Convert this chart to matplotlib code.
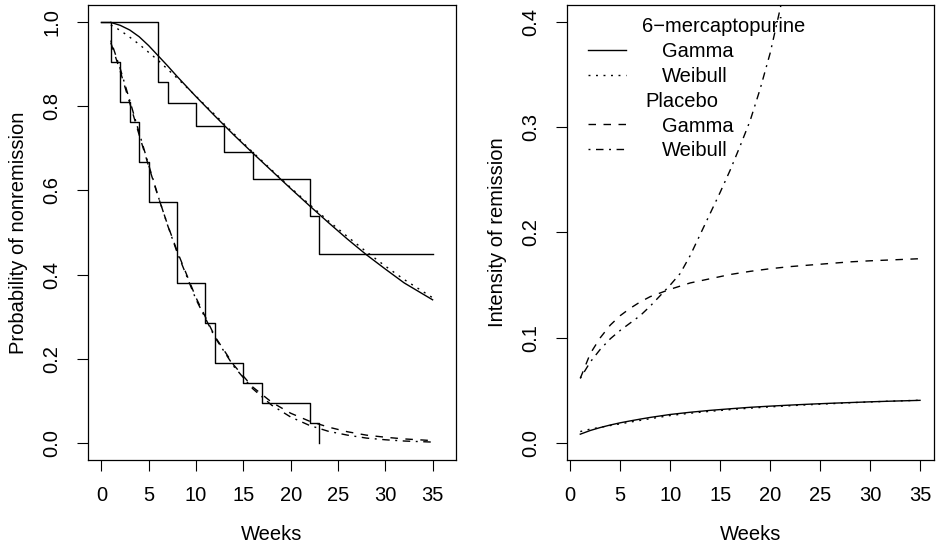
import matplotlib
matplotlib.use("Agg")
import matplotlib.pyplot as plt
from matplotlib.transforms import blended_transform_factory

plt.rcParams['font.family'] = ['Liberation Sans', 'DejaVu Sans']
plt.rcParams['lines.scale_dashes'] = False

# ---- Kaplan-Meier step data ----
km_mp_t = [0, 6, 7, 10, 13, 16, 22, 23, 35]
km_mp_s = [1.0, 0.857, 0.807, 0.753, 0.690, 0.627, 0.538, 0.448, 0.448]
km_pl_t = [0, 1, 2, 3, 4, 5, 8, 11, 12, 15, 17, 22, 23]
km_pl_s = [1.0, 0.905, 0.810, 0.762, 0.667, 0.571, 0.381, 0.286, 0.190, 0.143, 0.095, 0.048, 0.0]

# ---- fitted survival curves ----
weeks = [1, 2, 3, 4, 5, 6, 7, 8, 10, 12, 14, 16, 18, 20, 22, 24, 26, 28, 30, 32, 35]
surv_mp_gamma = [0.998, 0.991, 0.980, 0.964, 0.943, 0.919, 0.895, 0.870, 0.822, 0.776, 0.731,
                 0.688, 0.646, 0.604, 0.563, 0.523, 0.484, 0.447, 0.413, 0.380, 0.340]
surv_mp_weibull = [0.992, 0.979, 0.963, 0.946, 0.927, 0.908, 0.887, 0.866, 0.823, 0.779, 0.734,
                   0.690, 0.648, 0.606, 0.566, 0.527, 0.490, 0.454, 0.420, 0.388, 0.345]
surv_pl_gamma = [0.950, 0.882, 0.807, 0.731, 0.657, 0.585, 0.518, 0.456, 0.345, 0.253, 0.185,
                 0.133, 0.097, 0.071, 0.052, 0.038, 0.027, 0.019, 0.014, 0.010, 0.006]
surv_pl_weibull = [0.955, 0.888, 0.813, 0.736, 0.660, 0.586, 0.517, 0.453, 0.341, 0.251, 0.182,
                   0.129, 0.090, 0.062, 0.042, 0.028, 0.019, 0.012, 0.008, 0.005, 0.0025]

# ---- hazard curves ----
haz_mp_gamma = [0.0085, 0.0120, 0.0148, 0.0172, 0.0193, 0.0211, 0.0228, 0.0244, 0.0272, 0.0293,
                0.0311, 0.0326, 0.0340, 0.0351, 0.0361, 0.0370, 0.0378, 0.0385, 0.0392, 0.0398, 0.0406]
haz_mp_weibull = [0.0110, 0.0133, 0.0150, 0.0167, 0.0183, 0.0200, 0.0216, 0.0232, 0.0262, 0.0284,
                  0.0302, 0.0318, 0.0332, 0.0344, 0.0355, 0.0365, 0.0374, 0.0383, 0.0391, 0.0398, 0.0407]
haz_pl_gamma = [0.0615, 0.085, 0.100, 0.112, 0.121, 0.128, 0.134, 0.139, 0.146, 0.152, 0.156,
                0.160, 0.163, 0.1655, 0.1675, 0.169, 0.1705, 0.172, 0.173, 0.1738, 0.175]
weeks_pw = [1, 2, 3, 4, 5, 6, 7, 8, 9, 10, 11, 12, 13, 14, 15, 16, 17, 18, 19, 20, 21, 22]
haz_pl_weibull = [0.0615, 0.077, 0.089, 0.099, 0.107, 0.114, 0.121, 0.130, 0.140, 0.150, 0.161,
                  0.178, 0.198, 0.218, 0.238, 0.259, 0.282, 0.306, 0.336, 0.370, 0.412, 0.46]

xticks = [0, 5, 10, 15, 20, 25, 30, 35]
yticks_left = [0.0, 0.2, 0.4, 0.6, 0.8, 1.0]
yticks_right = [0.0, 0.1, 0.2, 0.3]
yticks_right = [0.0, 0.1, 0.2, 0.3, 0.4]

legend_labels = ["6\u2212mercaptopurine", "Gamma", "Weibull", "Placebo", "Gamma", "Weibull"]

W, H = 936, 549
fig = plt.figure(figsize=(W / 100, H / 100), dpi=100)
ax1 = fig.add_axes([87.7 / W, (H - 460) / H, 368.0 / W, 455.3 / H])
ax2 = fig.add_axes([566.7 / W, (H - 460) / H, 366.9 / W, 455.3 / H])

FS = 14.5
DASH = (0, (5.4, 5.4))
DOT = (0, (1.4, 4.0))
DASHDOT = (0, (1.4, 4.0, 5.4, 4.0))
LW = 1.0

# Left panel
ax1.step(km_mp_t, km_mp_s, where='post', color='black', lw=LW)
ax1.step(km_pl_t, km_pl_s, where='post', color='black', lw=LW)
ax1.plot(weeks, surv_mp_gamma, color='black', lw=LW, linestyle='-')
ax1.plot(weeks, surv_mp_weibull, color='black', lw=LW, linestyle=DOT)
ax1.plot(weeks, surv_pl_gamma, color='black', lw=LW, linestyle=DASH)
ax1.plot(weeks, surv_pl_weibull, color='black', lw=LW, linestyle=DASHDOT)
ax1.set_xlim(-1.44, 37.44)
ax1.set_ylim(-0.04, 1.04)
ax1.set_yticks(yticks_left)
ax1.set_yticklabels([f"{v:.1f}" for v in yticks_left], rotation=90, va='center')
ax1.set_ylabel("Probability of nonremission", fontsize=FS, labelpad=10)

# Right panel
ax2.plot(weeks, haz_mp_gamma, color='black', lw=LW, linestyle='-')
ax2.plot(weeks, haz_mp_weibull, color='black', lw=LW, linestyle=DOT)
ax2.plot(weeks, haz_pl_gamma, color='black', lw=LW, linestyle=DASH)
ax2.plot(weeks_pw, haz_pl_weibull, color='black', lw=LW, linestyle=DASHDOT)
ax2.set_xlim(-0.36, 36.36)
ax2.set_ylim(-0.016, 0.416)
ax2.set_yticks(yticks_right)
ax2.set_yticklabels([f"{v:.1f}" for v in yticks_right], rotation=90, va='center')
ax2.set_ylabel("Intensity of remission", fontsize=FS, labelpad=10)

for ax in (ax1, ax2):
    ax.set_xticks(xticks)
    ax.set_xticklabels([str(v) for v in xticks])
    ax.set_xlabel("Weeks", fontsize=FS, labelpad=14)
    ax.tick_params(direction='out', length=8, width=0.8, labelsize=FS, pad=11, color='black')
    for s in ax.spines.values():
        s.set_linewidth(0.9)
        s.set_color('black')

# Legend (manual, R style, no box)
px2fx = lambda px: (px - 566.7) / 366.9
py2fy = lambda py: (460 - py) / 455.3
baselines = [32.5, 57.3, 82.1, 106.9, 131.7, 156.5]
text_x = [641.7, 661.7, 661.7, 645.0, 661.7, 661.7]
styles = [None, '-', DOT, None, DASH, DASHDOT]
for lab, bx, by, st in zip(legend_labels, text_x, baselines, styles):
    ax2.text(px2fx(bx), py2fy(by), lab, transform=ax2.transAxes, fontsize=FS,
             ha='left', va='baseline')
    if st is not None:
        yy = py2fy(by - 7.5)
        ax2.plot([px2fx(588.3), px2fx(626.0)], [yy, yy], transform=ax2.transAxes,
                 color='black', lw=LW, linestyle=st, clip_on=False)

fig.savefig("out.png", dpi=100)
